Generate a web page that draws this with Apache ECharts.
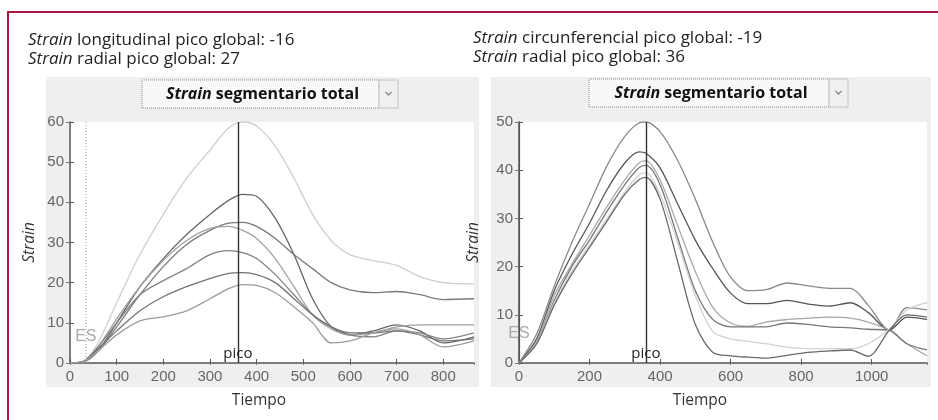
<!DOCTYPE html>
<html lang="es">
<head>
  <meta charset="UTF-8">
  <title>Strain segmentario total</title>
  <script src="https://cdn.jsdelivr.net/npm/echarts@6/dist/echarts.min.js"></script>
  <style>
    body { margin: 0; padding: 0; background: #fff; }
  </style>
</head>
<body>
  <div id="chart" style="width: 938px; height: 420px;"></div>
  <script>
    // panel izquierdo (longitudinal / radial)
    var tiempoIzq = [0, 30, 60, 100, 150, 200, 250, 300, 340, 370, 400, 440, 480, 520, 560, 600, 650, 700, 750, 800, 866];
    var izqA = [0, 0.5, 5, 15, 27, 37, 46, 53, 58.5, 60, 59, 54, 46, 37, 30.5, 27, 25.5, 24.3, 21.5, 20, 19.7];
    var izqB = [0, 0.3, 3, 10, 19, 26, 32, 37, 40.5, 42, 41.5, 36, 27, 16, 9, 7, 8, 9.5, 8, 5, 6.5];
    var izqC = [0, 0.3, 3, 9, 17, 24, 29.5, 33, 34.8, 35, 34, 31, 27, 23.5, 20, 18.2, 17.5, 17.8, 17, 15.8, 16];
    var izqD = [0, 0.3, 4, 11, 19, 25.5, 30.5, 33.5, 34, 33, 31, 26, 19, 12, 8.5, 7, 7.5, 9, 9.5, 9.5, 9.5];
    var izqE = [0, 0.5, 4, 10, 17, 20.5, 23.5, 27, 28, 27.5, 26, 22, 17, 12, 9, 7, 6.5, 8, 7.5, 6, 7.5];
    var izqF = [0, 0.5, 3.5, 8, 13, 16.5, 19, 21, 22.3, 22.5, 22, 20, 16, 12, 9, 7.5, 7.5, 8, 7, 5.5, 6];
    var izqG = [0, 0.5, 3, 7, 10.5, 11.5, 13, 16, 18.5, 19.5, 19.3, 17.5, 14, 10, 5, 5.5, 7.5, 8.5, 7, 4, 5.5];

    // panel derecho (circunferencial / radial)
    var tiempoDer = [0, 50, 100, 150, 200, 250, 300, 340, 360, 400, 450, 500, 550, 600, 650, 700, 760, 820, 880, 940, 990, 1050, 1100, 1157];
    var derA = [0, 6, 16, 25, 33, 41, 47, 49.8, 50, 48, 42, 34, 25, 17.8, 15, 15.2, 16.6, 16, 15.5, 15.5, 12, 6.8, 11.5, 11];
    var derB = [0, 5, 15, 22.5, 29, 36, 41.5, 43.8, 43.5, 40.5, 33, 25.5, 19.5, 14.5, 12.3, 12.3, 13, 12.2, 11.8, 12.5, 10.5, 6.8, 9.5, 9];
    var derC = [0, 4.5, 14, 20.5, 26.5, 32.5, 38, 41.5, 42, 38, 28.5, 19, 11.5, 8.3, 7.6, 8.5, 9, 9.3, 9.5, 9.3, 8.5, 6.8, 4, 1.5];
    var derD = [0, 4, 13, 20, 25.5, 31.5, 37, 40.5, 41, 37, 26, 15, 9, 7.5, 7.5, 7.5, 8.3, 8, 7.5, 7.3, 7, 6.8, 4, 2.7];
    var derE = [0, 4, 12.5, 19, 24.5, 30, 35.5, 39, 39.5, 35, 25, 14, 6.5, 5, 4.5, 4, 3.3, 3, 3, 3, 4, 7, 11, 12.5];
    var derF = [0, 4, 12, 18.5, 24, 29.5, 35, 38, 38.5, 34, 21, 8, 2.2, 1.5, 1.2, 1, 1.6, 2.2, 2.5, 2.7, 1.4, 6.8, 10, 9.5];

    var picoTiempo = 360;
    var esTiempo = 34;

    var chart = echarts.init(document.getElementById('chart'));

    var tickFont = {
      color: '#666', fontSize: 15, fontFamily: 'Liberation Sans',
      formatter: function (v) { return String(v); }
    };
    var fontTxt = 'Open Sans';

    function pares(xs, ys) {
      return xs.map(function (x, i) { return [x, ys[i]]; });
    }

    function linea(xs, ys, color, xi, yi, extra) {
      var s = {
        type: 'line',
        xAxisIndex: xi,
        yAxisIndex: yi,
        data: pares(xs, ys),
        showSymbol: false,
        smooth: 0.3,
        silent: true,
        lineStyle: { color: color, width: 1.3 },
        itemStyle: { color: color }
      };
      return Object.assign(s, extra || {});
    }

    function ejeX(gi, max, interval, nombre, pad) {
      return [{
        type: 'value', gridIndex: gi, min: 0, max: max, interval: interval,
        axisLine: { lineStyle: { color: '#555', width: 1.5 } },
        axisTick: { inside: true, length: 4, lineStyle: { color: '#555' } },
        axisLabel: Object.assign({ margin: 6, showMaxLabel: false }, tickFont),
        splitLine: { show: false },
        name: nombre, nameLocation: 'middle', nameGap: 30,
        nameTextStyle: { color: '#333', fontSize: 15.5, fontFamily: fontTxt, padding: pad }
      }, {
        type: 'value', gridIndex: gi, min: 0, max: max, interval: interval, position: 'top',
        axisLine: { show: false },
        axisTick: { inside: true, length: 2, lineStyle: { color: '#777' } },
        axisLabel: { show: false },
        splitLine: { show: false }
      }];
    }

    function ejeY(gi, max, gap, lineaDer) {
      return [{
        type: 'value', gridIndex: gi, min: 0, max: max, interval: 10,
        axisLine: { show: true, lineStyle: { color: '#555', width: 1.5 } },
        axisTick: { inside: true, length: 4, lineStyle: { color: '#555' } },
        axisLabel: Object.assign({ margin: 6 }, tickFont),
        splitLine: { show: false },
        name: 'Strain', nameLocation: 'middle', nameGap: gap,
        nameTextStyle: { color: '#333', fontSize: 15.5, fontStyle: 'italic', fontFamily: fontTxt }
      }, {
        type: 'value', gridIndex: gi, min: 0, max: max, interval: 10, position: 'right',
        axisLine: { show: lineaDer, lineStyle: { color: '#555', width: 1.2 } },
        axisTick: { inside: true, length: 4, lineStyle: { color: '#777' } },
        axisLabel: { show: false },
        splitLine: { show: false }
      }];
    }

    function marcas(conES, esX, esY) {
      var lineas = [{ xAxis: picoTiempo, lineStyle: { color: '#333', width: 1.4, type: 'solid' } }];
      if (conES) {
        lineas.push({ xAxis: esX, lineStyle: { color: '#bbb', width: 1.5, type: [1, 2] } });
      }
      return {
        markLine: {
          silent: true, symbol: 'none', label: { show: false },
          animation: false, data: lineas
        },
        markPoint: {
          silent: true, symbol: 'circle', symbolSize: 0, animation: false,
          data: [{
            coord: [picoTiempo, 0],
            label: { show: true, formatter: 'pico', position: 'top', distance: 2, color: '#222', fontSize: 15, fontFamily: fontTxt }
          }, {
            coord: [esX, esY],
            label: { show: true, formatter: 'ES', position: 'inside', color: '#aaa', fontSize: 16, fontFamily: 'Liberation Sans' }
          }]
        }
      };
    }

    function desplegable(x, y, w) {
      return {
        type: 'group', children: [
          { type: 'rect', shape: { x: x, y: y, width: w, height: 28 }, style: { fill: '#f8f8f8', stroke: '#8a8a8a', lineWidth: 1, lineDash: [1, 1] } },
          { type: 'rect', shape: { x: x + w, y: y, width: 19, height: 28 }, style: { fill: '#f0f0f0', stroke: '#c4c4c4', lineWidth: 1 } },
          { type: 'polyline', shape: { points: [[x + w + 6.5, y + 12], [x + w + 9.5, y + 15], [x + w + 12.5, y + 12]] }, style: { stroke: '#888', lineWidth: 1.3, fill: null } },
          {
            type: 'text', style: {
              text: '{i|Strain} segmentario total', x: x + w / 2 + 2, y: y + 14, align: 'center', verticalAlign: 'middle',
              fontSize: 16, fontWeight: 'bold', fontFamily: fontTxt, fill: '#111',
              rich: { i: { fontSize: 16, fontWeight: 'bold', fontStyle: 'italic', fontFamily: fontTxt, fill: '#111' } }
            }
          }
        ]
      };
    }

    function titulo(x, y, texto) {
      return {
        type: 'text', style: {
          text: texto, x: x, y: y, verticalAlign: 'middle',
          fontSize: 17, fontFamily: fontTxt, fill: '#222',
          rich: { i: { fontSize: 17, fontStyle: 'italic', fontFamily: fontTxt, fill: '#222' } }
        }
      };
    }

    var option = {
      animation: false,
      backgroundColor: '#fff',
      grid: [
        { left: 70, top: 122, width: 404, height: 241, show: true, backgroundColor: '#fff', borderWidth: 0 },
        { left: 519, top: 122, width: 408, height: 241, show: true, backgroundColor: '#fff', borderWidth: 0 }
      ],
      xAxis: ejeX(0, 866, 100, 'Tiempo', [0, 26, 0, 0]).concat(ejeX(1, 1157, 200, 'Tiempo', [0, 46, 0, 0])),
      yAxis: ejeY(0, 60, 32, false).concat(ejeY(1, 50, 37, true)),
      graphic: [
        { type: 'rect', z: -1, shape: { x: 46, y: 77, width: 433, height: 310 }, style: { fill: '#efefef' } },
        { type: 'rect', z: -1, shape: { x: 491, y: 77, width: 440, height: 310 }, style: { fill: '#efefef' } },
        { type: 'rect', shape: { x: 8, y: 11, width: 930, height: 2 }, style: { fill: '#a8173f' } },
        { type: 'rect', shape: { x: 7, y: 11, width: 2, height: 409 }, style: { fill: '#a8173f' } },
        titulo(28, 40, '{i|Strain} longitudinal pico global: -16'),
        titulo(28, 59, '{i|Strain} radial pico global: 27'),
        titulo(473, 38, '{i|Strain} circunferencial pico global: -19'),
        titulo(473, 57, '{i|Strain} radial pico global: 36'),
        desplegable(142, 80, 237),
        desplegable(589, 79, 240)
      ],
      series: [
        linea(tiempoIzq, izqA, '#cfcfcf', 0, 0, marcas(true, esTiempo, 6.5)),
        linea(tiempoIzq, izqB, '#666', 0, 0),
        linea(tiempoIzq, izqC, '#7a7a7a', 0, 0),
        linea(tiempoIzq, izqD, '#a2a2a2', 0, 0),
        linea(tiempoIzq, izqE, '#828282', 0, 0),
        linea(tiempoIzq, izqF, '#737373', 0, 0),
        linea(tiempoIzq, izqG, '#9c9c9c', 0, 0),
        linea(tiempoDer, derA, '#8a8a8a', 2, 2, marcas(false, 0, 6.2)),
        linea(tiempoDer, derB, '#555', 2, 2),
        linea(tiempoDer, derC, '#a8a8a8', 2, 2),
        linea(tiempoDer, derD, '#777', 2, 2),
        linea(tiempoDer, derE, '#d2d2d2', 2, 2),
        linea(tiempoDer, derF, '#6a6a6a', 2, 2)
      ]
    };

    chart.setOption(option);
  </script>
</body>
</html>
